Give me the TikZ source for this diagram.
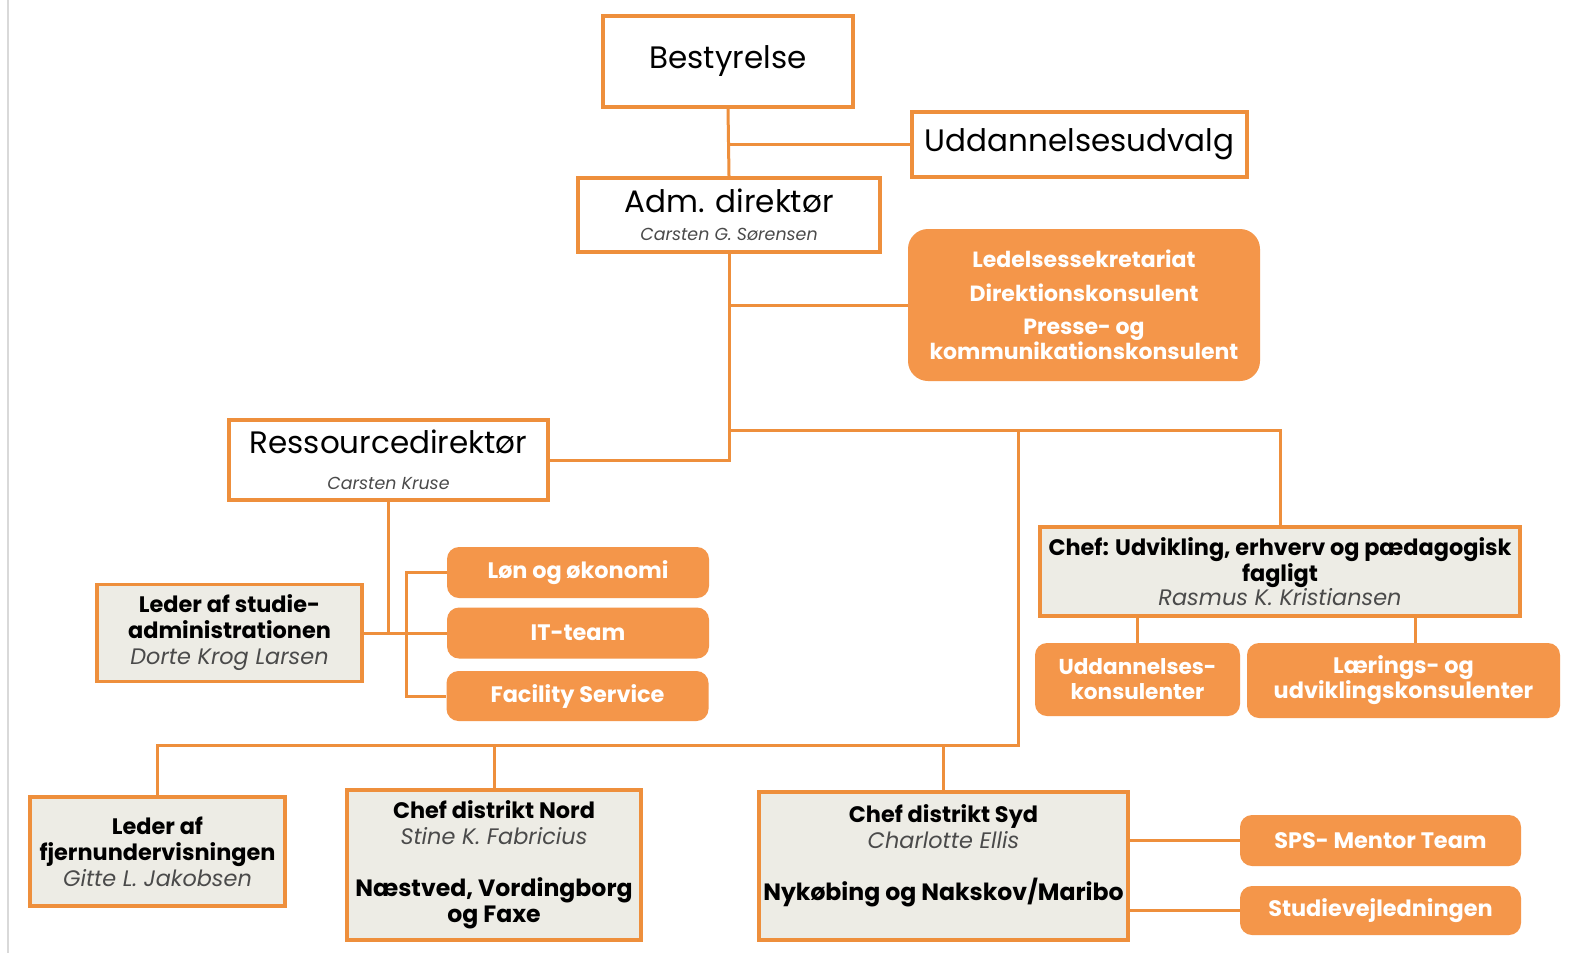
\documentclass[tikz,border=0pt]{standalone}
\usepackage{fontspec}
\setmainfont{Poppins}
\usepackage{tikz}
\definecolor{orgline}{HTML}{EE8F3C}
\definecolor{orgfill}{HTML}{F4964A}
\definecolor{chefgray}{HTML}{EDECE5}
\definecolor{namegray}{HTML}{4A4A4A}
\tikzstyle{Box}=[rectangle, draw=orgline, line width=1.8pt, fill=white, align=center, inner sep=2pt, font=\fontsize{15.5}{18}\selectfont]
\tikzstyle{Chef}=[Box, fill=chefgray, font=\fontsize{11.2}{13}\selectfont\bfseries]
\tikzstyle{Team}=[rectangle, rounded corners=6pt, fill=orgfill, text=white, align=center, inner sep=2pt, font=\fontsize{11.2}{12.5}\selectfont\bfseries]
\tikzstyle{Link}=[draw=orgline, line width=1.5pt]
\newcommand{\navn}[1]{{\mdseries\itshape\color{namegray}#1}}
\newcommand{\lillenavn}[1]{{\fontsize{8.7}{10}\selectfont\itshape\color{namegray}#1}}
\newcommand{\sted}[1]{{\fontsize{11.8}{13}\selectfont #1}}

\begin{document}
\begin{tikzpicture}[x=0.5pt, y=-0.5pt]
    \fill[white] (0,0) rectangle (1573,953);
    \useasboundingbox (0,0) rectangle (1573,953);
    \draw[black!15, line width=1pt] (8,0) -- (8,953);

    % ledelse
    \path
    (728,61.5) node[Box, minimum width=125pt, minimum height=45.5pt] (best) {Bestyrelse}
    (1079.5,144.5) node[Box, minimum width=167.5pt, minimum height=32.5pt] (udv) {Uddannelsesudvalg}
    (729,215) node[Box, minimum width=151pt, minimum height=37pt] (adm) {Adm. direktør\\[-4pt]\lillenavn{Carsten G. Sørensen}}
    (1084,305) node[Team, minimum width=176pt, minimum height=76pt, rounded corners=10pt, font=\fontsize{11}{12.5}\selectfont\bfseries] (sek)
        {Ledelsessekretariat\\[4.5pt]Direktionskonsulent\\[4pt]Presse- og\\kommunikationskonsulent}
    (388.5,460) node[Box, minimum width=159.5pt, minimum height=40pt] (res) {Ressourcedirektør\\[0pt]\lillenavn{Carsten Kruse}};

    % ressourcer
    \path
    (229.5,633) node[Chef, minimum width=132.5pt, minimum height=48.5pt] (studadm) {Leder af studie-\\administrationen\\\navn{Dorte Krog Larsen}}
    (578,572.5) node[Team, minimum width=131pt, minimum height=25.5pt] (lon) {Løn og økonomi}
    (578,633) node[Team, minimum width=131pt, minimum height=25.5pt] (it) {IT-team}
    (577.5,696) node[Team, minimum width=131pt, minimum height=25pt] (fac) {Facility Service};

    % udvikling
    \path
    (1280,571.5) node[Chef, minimum width=240pt, minimum height=44.5pt, font=\fontsize{11.2}{12}\selectfont\bfseries] (udvchef)
        {Chef: Udvikling, erhverv og pædagogisk\\fagligt\\\navn{Rasmus K. Kristiansen}}
    (1137.5,679.5) node[Team, minimum width=102.5pt, minimum height=36.5pt, font=\fontsize{10.8}{12.5}\selectfont\bfseries] (uddkons) {Uddannelses-\\konsulenter}
    (1403.5,680.5) node[Team, minimum width=156.5pt, minimum height=37.5pt] (laer) {Lærings- og\\udviklingskonsulenter};

    % distrikter
    \path
    (157.5,851.5) node[Chef, minimum width=127.5pt, minimum height=54.5pt] (fjern) {Leder af\\fjernundervisningen\\\navn{Gitte L. Jakobsen}}
    (494,865) node[Chef, minimum width=147pt, minimum height=75pt] (nord)
        {Chef distrikt Nord\\\navn{Stine K. Fabricius}\\[13pt]\sted{Næstved, Vordingborg}\\\sted{og Faxe}}
    (943.5,866) node[Chef, minimum width=184.5pt, minimum height=74pt] (syd)
        {Chef distrikt Syd\\\navn{Charlotte Ellis}\\[13pt]\sted{Nykøbing og Nakskov/Maribo}\\~}
    (1380.5,840.5) node[Team, minimum width=140.5pt, minimum height=25.5pt] (sps) {SPS- Mentor Team}
    (1380.5,910.5) node[Team, minimum width=140.5pt, minimum height=24.5pt] (stud) {Studievejledningen};

    \coordinate (hub) at (729,430);
    \coordinate (bus) at (1018,745);

    \begin{scope}[on background layer/.try]
    \draw[Link] (best.south) -- (adm.north);
    \draw[Link] (udv.west) -- (udv.west -| best.south);
    \draw[Link] (adm.south) |- (res.east);
    \draw[Link] (sek.west) -- (sek.west -| adm.south);
    \draw[Link] (hub) -| (udvchef.north);
    \draw[Link] (bus |- hub) -- (bus) -| (fjern.north);
    \draw[Link] (nord.north) -- (nord.north |- bus);
    \draw[Link] (syd.north) -- (syd.north |- bus);
    \draw[Link] (res.south) |- (studadm.east);
    \draw[Link] (studadm.east) -- (it.west);
    \draw[Link] (lon.west) -- ++(-40,0) |- (fac.west);
    \draw[Link] (uddkons.north) -- (uddkons.north |- udvchef.south);
    \draw[Link] ([xshift=5.75pt]laer.north) -- ([xshift=5.75pt]laer.north |- udvchef.south);
    \draw[Link] (sps.west) -- (sps.west -| syd.east);
    \draw[Link] (stud.west) -- (stud.west -| syd.east);
    \end{scope}
\end{tikzpicture}
\end{document}
